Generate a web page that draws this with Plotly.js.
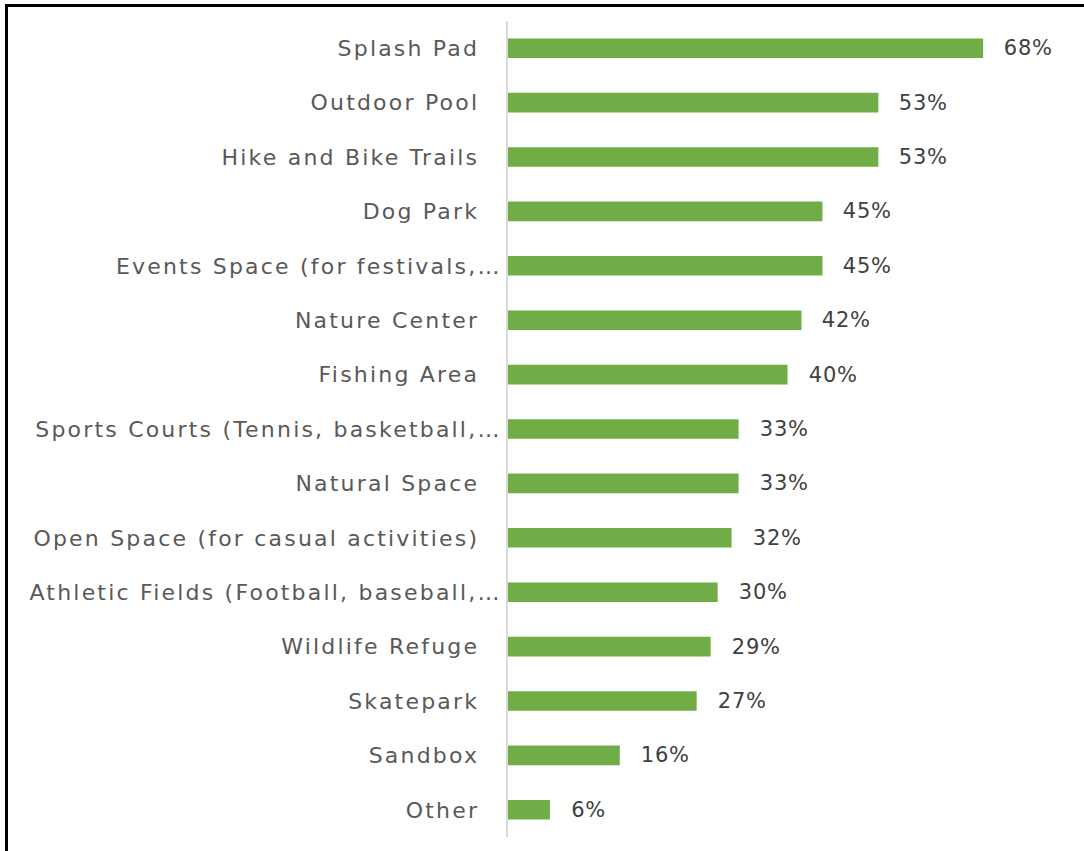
<!DOCTYPE html>
<html>
<head>
<meta charset="utf-8">
<script src="https://cdn.plot.ly/plotly-3.0.1.min.js"></script>
<style>
  html, body { margin: 0; padding: 0; background: #fff; }
  #chart { width: 1084px; height: 851px; position: relative; }
  .bl { position: absolute; background: #000; z-index: 10; }
  #chart .ytick text { letter-spacing: 2.2px; }
  #chart .annotation-text { letter-spacing: 0.8px; }
</style>
</head>
<body>
<div id="chart"></div>
<div class="bl" style="left:5px; top:4px; width:1079px; height:3px;"></div>
<div class="bl" style="left:5px; top:4px; width:3px; height:847px;"></div>
<script>
const categories = [
  "Splash Pad",
  "Outdoor Pool",
  "Hike and Bike Trails",
  "Dog Park",
  "Events Space (for festivals,…",
  "Nature Center",
  "Fishing Area",
  "Sports Courts (Tennis, basketball,…",
  "Natural Space",
  "Open Space (for casual activities)",
  "Athletic Fields (Football, baseball,…",
  "Wildlife Refuge",
  "Skatepark",
  "Sandbox",
  "Other"
];
const values = [68, 53, 53, 45, 45, 42, 40, 33, 33, 32, 30, 29, 27, 16, 6];
const valueLabels = values.map(v => v + "%");

const FONT = "DejaVu Sans, Verdana, sans-serif";

// Untruncated labels sit a little further left than the truncated ones (as in the original)
const tickText = categories.map(c => c.endsWith("…") ? c : c + "\u2002\u00A0");

const trace = {
  type: "bar",
  orientation: "h",
  x: values,
  y: categories,
  marker: { color: "#70AD47" },
  hoverinfo: "none"
};

const annotations = values.map((v, i) => ({
  x: v, y: categories[i], xref: "x", yref: "y",
  text: valueLabels[i], showarrow: false,
  xanchor: "left", yanchor: "middle", xshift: 20,
  font: { family: FONT, size: 21, color: "#404040" }
}));

const layout = {
  width: 1084, height: 851,
  margin: { l: 508, r: 17, t: 21, b: 14 },
  paper_bgcolor: "#fff", plot_bgcolor: "#fff",
  bargap: 0.64,
  showlegend: false,
  xaxis: {
    range: [0, 80], showgrid: false, zeroline: false, showticklabels: false,
    showline: false, ticks: ""
  },
  yaxis: {
    autorange: "reversed", showgrid: false, zeroline: false,
    showline: true, linecolor: "#D9D9D9", linewidth: 2,
    ticks: "", ticklabelstandoff: 0,
    tickmode: "array", tickvals: categories, ticktext: tickText,
    tickfont: { family: FONT, size: 22, color: "#595959" }
  },
  annotations: annotations
};

Plotly.newPlot("chart", [trace], layout, { displayModeBar: false, staticPlot: true });
</script>
</body>
</html>
